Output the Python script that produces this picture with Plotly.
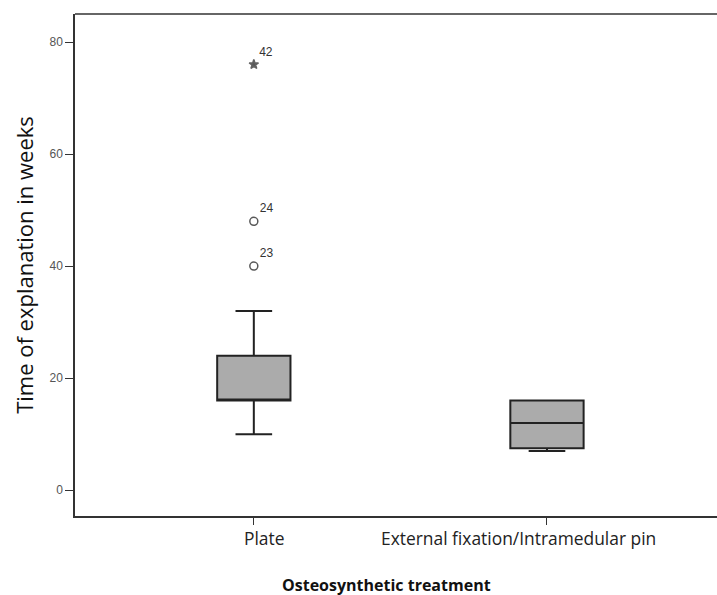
import plotly.graph_objects as go

categories = ["Plate", "External fixation/Intramedular pin"]
q1 = [16, 7.5]
median = [16, 12]
q3 = [24, 16]
lower_whisker = [10, 7]
upper_whisker = [32, 16]

outlier_category = ["Plate", "Plate", "Plate"]
outlier_values = [40, 48, 76]
outlier_labels = ["23", "24", "42"]
outlier_symbols = ["circle-open", "circle-open", "star"]

y_ticks = [0, 20, 40, 60, 80]

# horizontal offset (px) of each category label relative to its tick, as in the reference
label_shift = [10, -28]

fig = go.Figure()
fig.add_trace(go.Box(
    x=categories,
    q1=q1, median=median, q3=q3,
    lowerfence=lower_whisker, upperfence=upper_whisker,
    fillcolor="#ababab",
    line=dict(color="#222222", width=2),
    width=0.25,
    whiskerwidth=0.5,
    boxpoints=False,
    showlegend=False,
    hoverinfo="skip",
))
fig.add_trace(go.Scatter(
    x=outlier_category, y=outlier_values,
    mode="markers+text",
    text=outlier_labels,
    textposition="top right",
    textfont=dict(family="Liberation Sans, Arial", size=12, color="#333333"),
    marker=dict(symbol=outlier_symbols, size=[8, 8, 7], color="#111111",
                line=dict(color="#222222", width=1.5)),
    showlegend=False,
    cliponaxis=False,
))

annotations = [dict(text="<b>Osteosynthetic treatment</b>", xref="paper", yref="paper",
                    x=0.485, y=0, yshift=-69, xanchor="center", yanchor="middle",
                    showarrow=False,
                    font=dict(family="Open Sans, Liberation Sans", size=16, color="#111111"))]
for cat, shift in zip(categories, label_shift):
    annotations.append(dict(text=cat, x=cat, xref="x", y=0, yref="paper",
                            yshift=-22, xshift=shift, xanchor="center", yanchor="middle",
                            showarrow=False,
                            font=dict(family="Open Sans, Liberation Sans", size=17.4,
                                      color="#222222")))

fig.update_layout(
    width=717, height=595,
    margin=dict(l=75, r=0, t=14, b=79),
    plot_bgcolor="white",
    paper_bgcolor="white",
    font=dict(family="Open Sans, Liberation Sans", color="#222222"),
    shapes=[dict(type="line", xref="paper", yref="paper", x0=0, x1=1, y0=1, y1=1,
                 line=dict(color="#333333", width=1.5))],
    annotations=annotations,
)
fig.update_xaxes(
    type="category",
    range=[-0.61, 1.58],
    showline=True, linecolor="#333333", linewidth=1.5, mirror=False,
    ticks="outside", ticklen=7, tickcolor="#333333",
    showticklabels=False,
    showgrid=False, zeroline=False,
)
fig.update_yaxes(
    range=[-4.6, 85],
    tickvals=y_ticks,
    showline=True, linecolor="#333333", linewidth=1.5, mirror=False,
    ticks="outside", ticklen=8, tickcolor="#333333",
    tickfont=dict(family="Liberation Sans, Arial", size=12, color="#555555"),
    showgrid=False, zeroline=False,
    title=dict(text="Time of explanation in weeks",
               font=dict(family="Open Sans, Liberation Sans", size=22, color="#111111"),
               standoff=10),
)

fig.write_html("out.html")
